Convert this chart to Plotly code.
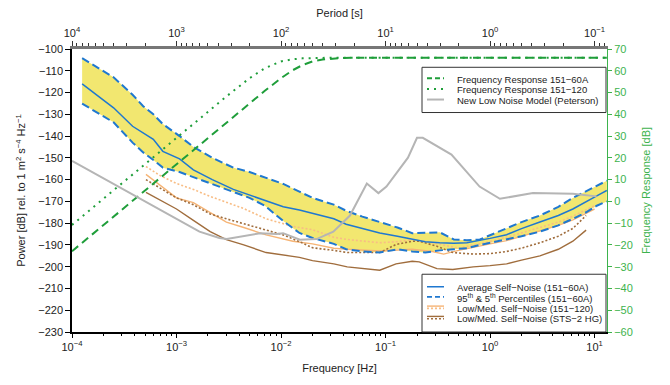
import plotly.graph_objects as go

# ---------------- data ----------------
# Guralp 151-60A self-noise statistics
freq_60a = [1.25e-4, 2.5e-4, 3.8e-4, 4.8e-4, 6e-4, 7.4e-4, 1.07e-3, 1.45e-3, 2.2e-3, 3.5e-3,
            5e-3, 7e-3, 1.05e-2, 1.5e-2, 2e-2, 3.2e-2, 4.2e-2, 6e-2, 8.8e-2, 0.13,
            0.18, 0.24, 0.33, 0.45, 0.6, 0.8, 1.0, 1.44, 2.0, 3.0, 4.5, 6.2, 8.3, 10.5, 13.1]
avg_60a = [-116, -127, -135.5, -138.5, -141.5, -147, -150.5, -155.5, -160, -164.5,
           -167, -169.5, -172.5, -174, -175.5, -178, -180.5, -182.5, -184.5, -186,
           -187.5, -188.5, -189, -189.2, -189, -188, -187, -185.3, -182.5, -179.5,
           -176.5, -173.5, -170, -167.5, -165]
p95_60a = [-104.2, -113, -121, -126.3, -130, -134.5, -140, -145, -150, -154.5,
           -156.5, -159, -162, -165.5, -168.4, -171.5, -174.3, -177, -179.5, -182,
           -184.6, -184.3, -184.2, -187.5, -187.8, -187.5, -185.5, -182.4, -179.5, -176.5,
           -172.5, -168.4, -165.4, -163, -160.5]
p05_60a = [-125.1, -133.7, -143, -147.5, -151, -154.5, -156.5, -158.8, -162, -165.5,
           -168.4, -172, -179, -184.5, -186.8, -189.5, -192, -193, -193.5, -192,
           -193, -193.5, -192.5, -192, -191.5, -190, -189, -187.6, -186, -183.9,
           -181, -178, -175, -172, -170]

# 151-120 low / median self-noise
freq_120 = [5.1e-4, 6.9e-4, 1.0e-3, 1.45e-3, 2.1e-3, 3.0e-3, 4.4e-3, 7.2e-3, 1.3e-2, 2e-2,
            3.2e-2, 4.3e-2, 8.8e-2, 0.13, 0.18, 0.28, 0.36, 0.5, 0.69, 1.0,
            1.44, 2.0, 3.0, 4.5, 6.2, 8.3, 10.0]
low_120 = [-157.6, -162.5, -168.4, -170.6, -175, -179.5, -182, -185.4, -188.3, -189.5,
           -191.5, -192, -192.8, -192.5, -192, -193, -194.2, -192.5, -191, -189.5,
           -188, -186, -183.5, -181, -178.5, -175.5, -173.5]
med_120 = [-154, -158, -161.8, -164.5, -167.7, -170.5, -173.3, -178, -181.5, -183,
           -186.5, -187.5, -189, -188.5, -187.6, -189, -190, -191.5, -190, -188.5,
           -186.5, -184.5, -182, -179.5, -176.8, -174, -172]

# STS-2 HG low / median self-noise
freq_sts = [5.1e-4, 1.0e-3, 1.45e-3, 2.1e-3, 3.0e-3, 4.4e-3, 7.2e-3, 1.05e-2, 1.5e-2, 2e-2,
            3.2e-2, 4.3e-2, 8.8e-2, 0.126, 0.18, 0.21, 0.31, 0.44, 0.6, 0.69,
            1.0, 1.44, 2.0, 3.0, 4.5, 6.2, 8.3]
low_sts = [-165.9, -173.5, -178.7, -183.9, -187.6, -190, -193.5, -194.5, -195.7, -197.2,
           -198.7, -200.1, -201.6, -198.7, -197.5, -197.8, -200.9, -201.3, -200.5, -200.1,
           -199.5, -198.7, -197, -195, -192, -188.3, -183.2]
med_sts = [-160, -168.4, -171.5, -175.8, -178, -180.2, -183, -185.4, -188.5, -191.3,
           -192.5, -193.5, -193.5, -189.8, -188.3, -188.3, -190.6, -193.5, -194, -194.2,
           -194, -193, -191.5, -189, -186, -182.4, -176.5]

# Peterson New Low Noise Model (given against period)
period_nlnm = [10000, 603, 389, 331, 158, 110, 95.5, 66, 45.7, 31.6, 21.9, 15.1,
               11.7, 9.8, 6.1, 5.0, 4.4, 2.34, 1.26, 0.805, 0.389, 0.161, 0.0955]
nlnm = [-151.4, -183.9, -186.8, -187.3, -184.6, -185, -184.6, -187.6, -187.3, -183.9,
        -176.5, -161.8, -166.2, -163.2, -149.9, -140.8, -140.8, -148.5, -163.2, -168.8,
        -166.2, -166.5, -167.7]

# Frequency responses (right axis, dB)
freq_resp = [1e-4, 1e-3, 2e-3, 3e-3, 5e-3, 7e-3, 1e-2, 1.3e-2, 1.6e-2, 2e-2,
             2.5e-2, 3e-2, 4e-2, 6e-2, 0.1, 1.0, 13.1]
resp_60a = [-22.9, 17.1, 29.2, 36.2, 45.1, 50.8, 56.6, 60.3, 62.6, 64.3,
            65.2, 65.6, 65.9, 66.0, 66.0, 66.0, 66.0]
resp_120 = [-10.8, 29.2, 41.2, 48.2, 56.6, 61.2, 64.3, 65.3, 65.7, 65.9,
            65.95, 66.0, 66.0, 66.0, 66.0, 66.0, 66.0]

freq_ticks = [1e-4, 1e-3, 1e-2, 1e-1, 1e0, 1e1]
freq_ticktext = ["10<sup>−4</sup>", "10<sup>−3</sup>", "10<sup>−2</sup>",
                 "10<sup>−1</sup>", "10<sup>0</sup>", "10<sup>1</sup>"]
period_ticks = [1e4, 1e3, 1e2, 1e1, 1e0, 1e-1]
period_ticktext = ["10<sup>4</sup>", "10<sup>3</sup>", "10<sup>2</sup>",
                   "10<sup>1</sup>", "10<sup>0</sup>", "10<sup>−1</sup>"]

legend1 = [("Frequency Response 151−60A", "green_dash"),
           ("Frequency Response 151−120", "green_dot"),
           ("New Low Noise Model (Peterson)", "gray")]
legend2 = [("Average Self−Noise (151−60A)", "blue"),
           ("95<sup>th</sup> & 5<sup>th</sup> Percentiles (151−60A)", "blue_dash"),
           ("Low/Med. Self−Noise (151−120)", "orange"),
           ("Low/Med. Self−Noise (STS−2 HG)", "brown")]

# ---------------- styling ----------------
FONT = "Liberation Sans, Arial, Helvetica, sans-serif"
BLUE = "#1f78d0"
YELLOW = "#f2e770"
GREEN = "#1f9e3a"
GREEN_AX = "#3db34d"
ORANGE = "#f6b475"
ORANGE_DOT = "#f8bd85"
BROWN = "#a06d3d"
GRAY = "#b5b5b5"

W, H = 670, 385
ML, MR, MT, MB = 72, 63, 47, 44
PW, PH = W - ML - MR, H - MT - MB


def px(x):
    return (x - ML) / PW


def py(y):
    return (H - MB - y) / PH


fig = go.Figure()

# yellow percentile band
fig.add_trace(go.Scatter(x=freq_60a, y=p05_60a, mode="lines", line=dict(width=0),
                         showlegend=False, hoverinfo="skip"))
fig.add_trace(go.Scatter(x=freq_60a, y=p95_60a, mode="lines", line=dict(width=0),
                         fill="tonexty", fillcolor=YELLOW, showlegend=False, hoverinfo="skip"))

# NLNM on period axis
fig.add_trace(go.Scatter(x=period_nlnm, y=nlnm, xaxis="x2", yaxis="y", mode="lines",
                         line=dict(color=GRAY, width=2), showlegend=False))

# 151-120 and STS-2
fig.add_trace(go.Scatter(x=freq_120, y=med_120, mode="lines",
                         line=dict(color=ORANGE_DOT, width=1.6, dash="2px,2px"), showlegend=False))
fig.add_trace(go.Scatter(x=freq_120, y=low_120, mode="lines",
                         line=dict(color=ORANGE, width=1.4), showlegend=False))
fig.add_trace(go.Scatter(x=freq_sts, y=med_sts, mode="lines",
                         line=dict(color=BROWN, width=1.6, dash="2px,2px"), showlegend=False))
fig.add_trace(go.Scatter(x=freq_sts, y=low_sts, mode="lines",
                         line=dict(color=BROWN, width=1.4), showlegend=False))

# 151-60A mean and percentiles
fig.add_trace(go.Scatter(x=freq_60a, y=avg_60a, mode="lines",
                         line=dict(color=BLUE, width=1.5), showlegend=False))
fig.add_trace(go.Scatter(x=freq_60a, y=p95_60a, mode="lines",
                         line=dict(color=BLUE, width=2, dash="8px,4px"), showlegend=False))
fig.add_trace(go.Scatter(x=freq_60a, y=p05_60a, mode="lines",
                         line=dict(color=BLUE, width=2, dash="8px,4px"), showlegend=False))

# frequency responses on right axis
fig.add_trace(go.Scatter(x=freq_resp, y=resp_60a, yaxis="y2", mode="lines",
                         line=dict(color=GREEN, width=2, dash="8px,5px"), showlegend=False))
fig.add_trace(go.Scatter(x=freq_resp, y=resp_120, yaxis="y2", mode="lines",
                         line=dict(color=GREEN, width=2, dash="2px,5px"), showlegend=False))

# ---------------- manual legends ----------------
shapes = []
annotations = []
styles = {
    "green_dash": [dict(color=GREEN, width=2, dash="5px,3px")],
    "green_dot": [dict(color=GREEN, width=2, dash="2px,5px")],
    "gray": [dict(color=GRAY, width=2)],
    "blue": [dict(color=BLUE, width=1.5)],
    "blue_dash": [dict(color=BLUE, width=1.8, dash="5px,3px")],
    "orange": [dict(color=ORANGE, width=1.4), dict(color=ORANGE_DOT, width=1.6, dash="2px,2px")],
    "brown": [dict(color=BROWN, width=1.4), dict(color=BROWN, width=1.6, dash="2px,2px")],
}


def add_legend(entries, box, rows):
    x0, y0, x1, y1 = box
    shapes.append(dict(type="rect", xref="paper", yref="paper", x0=px(x0), x1=px(x1),
                       y0=py(y1), y1=py(y0), line=dict(color="#333333", width=1),
                       fillcolor="white", layer="above"))
    for (label, key), ry in zip(entries, rows):
        st = styles[key]
        offs = [0] if len(st) == 1 else [-1.2, 1.2]
        for s, o in zip(st, offs):
            shapes.append(dict(type="line", xref="paper", yref="paper",
                               x0=px(427), x1=px(444), y0=py(ry + o - 1), y1=py(ry + o - 1),
                               line=s, layer="above"))
        annotations.append(dict(text=label, xref="paper", yref="paper", x=px(455), y=py(ry),
                                xanchor="left", yanchor="middle", showarrow=False,
                                font=dict(family=FONT, size=9.5, color="#222222")))


add_legend(legend1, (422, 66, 606, 113), [78.5, 89.5, 100.5])
add_legend(legend2, (422, 281, 606, 341), [295, 305.5, 316.3, 327])

tickfont = dict(family=FONT, size=11, color="#222222")

fig.update_layout(
    width=W, height=H,
    margin=dict(l=ML, r=MR, t=MT, b=MB),
    paper_bgcolor="white", plot_bgcolor="white",
    showlegend=False,
    font=dict(family=FONT, size=11, color="#222222"),
    shapes=shapes, annotations=annotations,
    xaxis=dict(type="log", range=[-4, 1.119], tickvals=freq_ticks, ticktext=freq_ticktext,
               showgrid=False, zeroline=False, showline=True, linecolor="black", linewidth=1.5,
               ticks="outside", ticklen=4, tickcolor="black", tickfont=tickfont,
               minor=dict(ticks="outside", ticklen=2, tickcolor="black", dtick="D1", showgrid=False),
               title=dict(text="Frequency [Hz]", font=dict(family=FONT, size=11), standoff=12)),
    xaxis2=dict(type="log", range=[4, -1.119], overlaying="x", side="top",
                tickvals=period_ticks, ticktext=period_ticktext,
                showgrid=False, zeroline=False, showline=True, linecolor="#777777", linewidth=2.5,
                ticks="outside", ticklen=5, tickcolor="#333333", tickfont=tickfont,
                minor=dict(ticks="outside", ticklen=3, tickcolor="#333333", dtick="D1", showgrid=False),
                title=dict(text="Period [s]", font=dict(family=FONT, size=11), standoff=6)),
    yaxis=dict(range=[-230, -100], dtick=10, showgrid=False, zeroline=False, showline=True,
               linecolor="black", linewidth=1.5, ticks="outside", ticklen=5, tickcolor="black",
               tickfont=tickfont,
               title=dict(text="Power [dB] rel. to 1 m<sup>2</sup> s<sup>−4</sup> Hz<sup>−1</sup>",
                          font=dict(family=FONT, size=11), standoff=10)),
    yaxis2=dict(range=[-60, 70], dtick=10, overlaying="y", side="right", showgrid=False,
                zeroline=False, showline=True, linecolor=GREEN_AX, linewidth=1,
                ticks="outside", ticklen=4, tickcolor=GREEN_AX,
                tickfont=dict(family=FONT, size=11, color=GREEN_AX),
                title=dict(text="Frequency Response [dB]",
                           font=dict(family=FONT, size=11, color=GREEN_AX), standoff=10)),
)

fig.write_html("out.html")
